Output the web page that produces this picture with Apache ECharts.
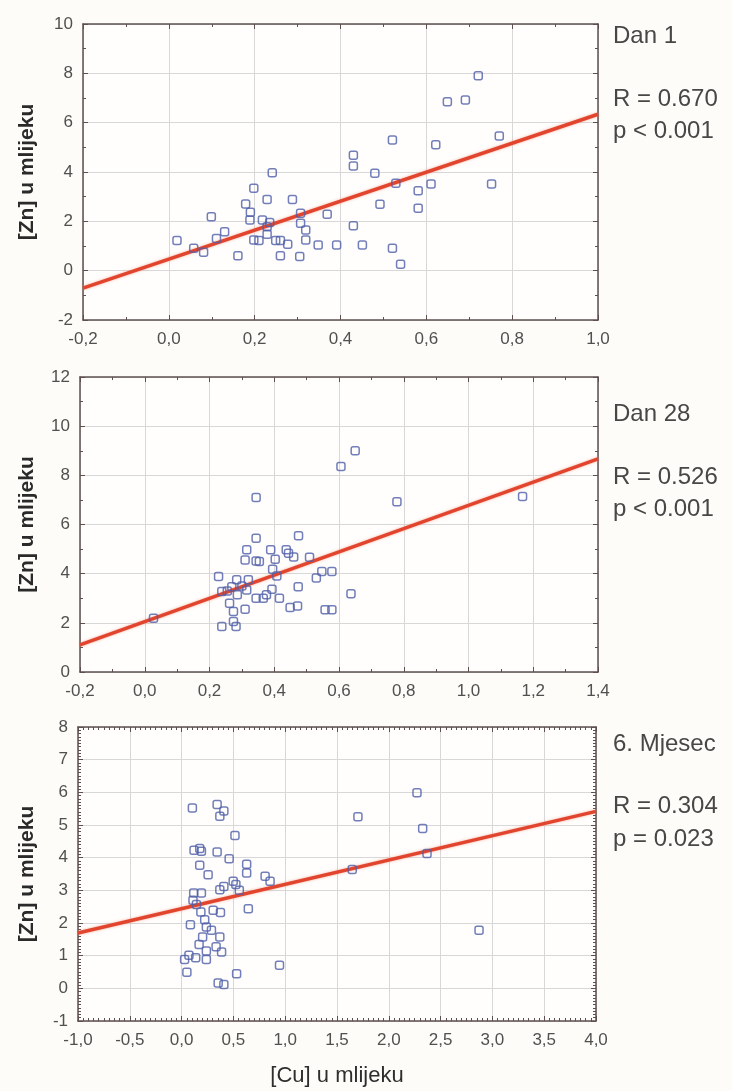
<!DOCTYPE html>
<html>
<head>
<meta charset="utf-8">
<script src="https://cdn.jsdelivr.net/npm/echarts@6/dist/echarts.min.js"></script>
<style>
  html, body { margin: 0; padding: 0; background: #fdfcf8; }
  #chart { width: 732px; height: 1091px; }
</style>
</head>
<body>
<div id="chart"></div>
<script>
// [Cu] vs [Zn] in milk, three sampling times: [Cu, Zn] pairs
const dan1Points = [
  [0.019,1.22],[0.058,0.91],[0.081,0.75],[0.099,2.19],[0.111,1.30],[0.130,1.58],
  [0.161,0.60],[0.179,2.70],[0.190,2.37],[0.189,2.05],[0.198,3.34],[0.198,1.24],
  [0.210,1.22],[0.218,2.05],[0.229,2.89],[0.241,3.97],[0.229,1.78],[0.235,1.95],
  [0.229,1.48],[0.249,1.22],[0.260,1.22],[0.260,0.60],[0.277,1.07],[0.288,2.89],
  [0.307,2.33],[0.307,1.92],[0.319,1.65],[0.319,1.24],[0.305,0.57],[0.348,1.04],
  [0.369,2.29],[0.391,1.04],[0.430,4.68],[0.430,4.24],[0.430,1.82],[0.451,1.04],
  [0.480,3.95],[0.492,2.69],[0.521,5.30],[0.521,0.91],[0.529,3.54],[0.540,0.26],
  [0.581,3.24],[0.581,2.53],[0.611,3.51],[0.622,5.10],[0.649,6.85],[0.691,6.92],
  [0.721,7.90],[0.752,3.51],[0.770,5.46]
];
const dan28Points = [
  [0.027,2.19],[0.228,3.88],[0.238,1.85],[0.238,3.27],[0.262,2.80],[0.274,2.46],
  [0.274,2.05],[0.282,1.85],[0.269,3.47],[0.284,3.75],[0.286,3.14],[0.255,3.30],
  [0.310,2.55],[0.310,4.56],[0.315,4.97],[0.320,3.75],[0.315,3.34],[0.300,3.50],
  [0.344,7.10],[0.344,5.44],[0.344,4.52],[0.344,3.00],[0.354,4.49],[0.366,3.00],
  [0.376,3.14],[0.389,4.97],[0.395,4.18],[0.403,4.59],[0.408,3.91],[0.393,3.37],
  [0.416,3.00],[0.437,4.97],[0.444,4.83],[0.449,2.62],[0.460,4.68],[0.472,2.68],
  [0.474,3.47],[0.475,5.54],[0.509,4.67],[0.530,3.82],[0.547,4.09],[0.578,4.09],
  [0.557,2.53],[0.578,2.53],[0.637,3.18],[0.606,8.36],[0.650,9.00],[0.779,6.93],
  [1.167,7.14]
];
const mjesec6Points = [
  [0.104,5.52],[0.343,5.63],[0.408,5.43],[0.369,5.27],[0.515,4.68],[0.120,4.23],
  [0.175,4.28],[0.191,4.20],[0.343,4.17],[0.459,3.97],[0.175,3.77],[0.256,3.48],
  [0.628,3.80],[0.628,3.53],[0.806,3.43],[0.854,3.28],[0.498,3.28],[0.524,3.18],
  [0.557,3.00],[0.408,3.12],[0.369,3.02],[0.117,2.92],[0.191,2.92],[0.110,2.70],
  [0.143,2.57],[0.186,2.34],[0.305,2.39],[0.375,2.32],[0.644,2.44],[0.223,2.10],
  [0.085,1.95],[0.239,1.88],[0.288,1.78],[0.203,1.57],[0.369,1.57],[0.169,1.34],
  [0.333,1.27],[0.239,1.14],[0.386,1.11],[0.071,1.01],[0.136,0.94],[0.029,0.88],
  [0.239,0.88],[0.051,0.49],[0.531,0.45],[0.353,0.16],[0.408,0.12],[0.945,0.71],
  [2.272,5.99],[1.702,5.25],[2.327,4.89],[2.369,4.13],[1.647,3.64],[2.871,1.78]
];

// Linear fit for each panel: Zn = intercept + slope * Cu
const fitIntercept = [0.465, 2.05, 2.44];
const fitSlope = [5.875, 4.73, 0.744];

// Panel labels and statistics
const panelTitles = ['Dan 1', 'Dan 28', '6. Mjesec'];
const rTexts = ['R = 0.670', 'R = 0.526', 'R = 0.304'];
const pTexts = ['p < 0.001', 'p < 0.001', 'p = 0.023'];

// Axis scales: [min, max, interval]
const xScales = [[-0.2, 1.0, 0.2], [-0.2, 1.4, 0.2], [-1.0, 4.0, 0.5]];
const yScales = [[-2, 10, 2], [0, 12, 2], [-1, 8, 1]];
const minorSplits = [2, 2, 10];
const yTitle = '[Zn] u mlijeku';
const xTitle = '[Cu] u mlijeku';

const allPoints = [dan1Points, dan28Points, mjesec6Points];
const grids = [
  { left: 83, top: 24, width: 515, height: 296 },
  { left: 80, top: 377, width: 518, height: 295 },
  { left: 78, top: 727, width: 518, height: 294 }
];
const annotY = [[36, 99, 131], [414, 477, 509], [744, 806, 839]];

const FONT = 'Liberation Sans, Arial, sans-serif';
const FRAME = '#5e5050';
const fmtX = v => v.toFixed(1).replace('.', ',');
const fmtY = v => String(v);

const xAxis = [], yAxis = [], series = [], graphic = [];

for (let i = 0; i < 3; i++) {
  const [xmin, xmax, xint] = xScales[i];
  const [ymin, ymax, yint] = yScales[i];
  const tickCommon = {
    axisLine: { show: true, onZero: false, lineStyle: { color: FRAME, width: 1.5 } },
    axisTick: { show: true, inside: true, length: 5, lineStyle: { color: FRAME, width: 1 } },
    minorTick: { show: true, splitNumber: minorSplits[i], length: 3, lineStyle: { color: FRAME, width: 1 } }
  };
  // bottom / left axes carry labels and gridlines
  xAxis.push(Object.assign({
    type: 'value', gridIndex: i, position: 'bottom', min: xmin, max: xmax, interval: xint,
    axisLabel: { color: '#505050', fontSize: 17, fontFamily: FONT, margin: 11, formatter: fmtX },
    splitLine: { show: true, lineStyle: { color: '#d8d8d8', width: 1 } },
    name: i === 2 ? xTitle : '', nameLocation: 'middle', nameGap: 44,
    nameTextStyle: { color: '#2e2e2e', fontSize: 22, fontFamily: FONT }
  }, tickCommon));
  xAxis.push(Object.assign({
    type: 'value', gridIndex: i, position: 'top', min: xmin, max: xmax, interval: xint,
    axisLabel: { show: false }, splitLine: { show: false }
  }, tickCommon));
  yAxis.push(Object.assign({
    type: 'value', gridIndex: i, position: 'left', min: ymin, max: ymax, interval: yint,
    axisLabel: { color: '#505050', fontSize: 17, fontFamily: FONT, margin: 10, formatter: fmtY },
    splitLine: { show: true, lineStyle: { color: '#d8d8d8', width: 1 } }
  }, tickCommon));
  yAxis.push(Object.assign({
    type: 'value', gridIndex: i, position: 'right', min: ymin, max: ymax, interval: yint,
    axisLabel: { show: false }, splitLine: { show: false }
  }, tickCommon));

  // regression line across the full x range
  series.push({
    type: 'line', xAxisIndex: 2 * i, yAxisIndex: 2 * i, silent: true,
    showSymbol: false, animation: false, z: 2,
    lineStyle: { color: '#e2452e', width: 3.5, shadowColor: 'rgba(240,130,110,0.6)', shadowBlur: 3 },
    data: [[xmin, fitIntercept[i] + fitSlope[i] * xmin], [xmax, fitIntercept[i] + fitSlope[i] * xmax]]
  });
  series.push({
    type: 'scatter', xAxisIndex: 2 * i, yAxisIndex: 2 * i, animation: false, z: 3,
    symbol: 'roundRect', symbolSize: 8,
    itemStyle: { color: 'rgba(0,0,0,0)', borderColor: '#4f5ea8', borderWidth: 1.5 },
    data: allPoints[i]
  });

  const g = grids[i];
  // rotated y-axis title
  graphic.push({
    type: 'text', x: 27, y: g.top + g.height / 2, rotation: Math.PI / 2,
    style: { text: yTitle, fill: '#2a2a2a', font: 'bold 21px ' + FONT, textAlign: 'center', textVerticalAlign: 'middle' }
  });
  const lines = [panelTitles[i], rTexts[i], pTexts[i]];
  lines.forEach((t, k) => graphic.push({
    type: 'text', x: 613, y: annotY[i][k],
    style: { text: t, fill: '#474747', font: '24px ' + FONT, textAlign: 'left', textVerticalAlign: 'middle' }
  }));
}

const chart = echarts.init(document.getElementById('chart'), null, { renderer: 'canvas' });
chart.setOption({
  backgroundColor: '#fdfcf8',
  animation: false,
  grid: grids.map(g => Object.assign({ show: true, backgroundColor: '#fffefc', borderWidth: 0 }, g)),
  xAxis, yAxis, series, graphic
});
</script>
</body>
</html>
